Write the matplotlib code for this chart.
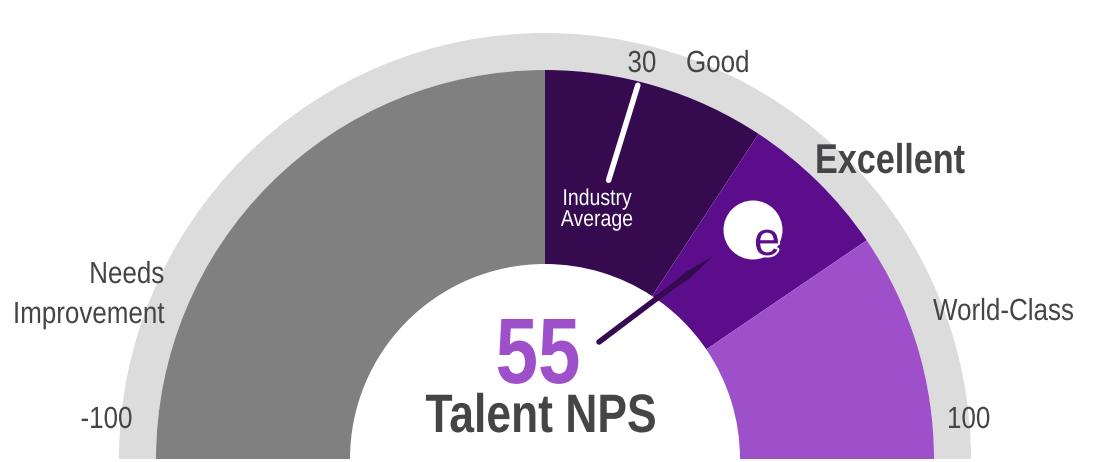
import matplotlib
matplotlib.use('Agg')
import numpy as np
import matplotlib.pyplot as plt
from matplotlib.patches import Wedge, Circle, Polygon
from matplotlib.transforms import Affine2D
import matplotlib.patheffects as pe

# gauge data
scale_min, scale_max = -100, 100
band_edges = [-100, 0, 37, 62, 100]
band_colors = ['#808080', '#350a4e', '#5c0d8c', '#9d50c9']
score = 55
score_label = 'Talent NPS'
industry_avg = 30
industry_mark = 15.5   # where the marker sits on the drawn dial
zone_names = ['Needs\nImprovement', 'Good', 'Excellent', 'World-Class']

plt.rcParams['font.family'] = ['Liberation Sans', 'DejaVu Sans']
TXT = '#454547'

R_RING = 426 / 389
R_OUT = 1.0
R_IN = 195 / 389


class Narrow(pe.AbstractPathEffect):
    """squeeze glyphs horizontally (no narrow font installed)"""
    def __init__(self, sx=0.82, anchor='center'):
        super().__init__()
        self.sx = sx
        self.anchor = anchor

    def draw_path(self, renderer, gc, tpath, affine, rgbFace=None):
        ext = tpath.get_extents()
        x0 = {'left': 0, 'right': ext.x1, 'center': (ext.x0 + ext.x1) / 2}[self.anchor]
        sq = Affine2D().translate(-x0, 0).scale(self.sx, 1).translate(x0, 0)
        renderer.draw_path(gc, tpath, sq + affine, rgbFace)


def ang(v):
    return 180 - (v - scale_min) / (scale_max - scale_min) * 180


def px(x, y):
    # picture pixels -> gauge units (center of dial at 545,459, radius 389)
    return (x - 545) / 389, (459 - y) / 389


def label(x, y, s, size, ha='center', color=TXT, bold=False):
    ax.text(*px(x, y), s, color=color, fontsize=size, ha=ha, va='baseline',
            fontweight='bold' if bold else 'normal',
            path_effects=[Narrow(0.82 if bold else 0.85, ha)], zorder=9)


fig = plt.figure(figsize=(11.01, 4.62), dpi=100)
ax = fig.add_axes([0, 0, 1, 1])
ax.set_xlim(-545 / 389, (1101 - 545) / 389)
ax.set_ylim(-3 / 389, 459 / 389)
ax.set_aspect('equal')
ax.axis('off')

ax.add_patch(Wedge((0, 0), R_RING, 0, 180, width=R_RING - R_OUT, color='#dcdcdc', lw=0))
for lo, hi, c in zip(band_edges[:-1], band_edges[1:], band_colors):
    ax.add_patch(Wedge((0, 0), R_OUT, ang(hi), ang(lo), width=R_OUT - R_IN, color=c, lw=0))

# industry average marker
t = np.radians(ang(industry_mark))
t2 = np.radians(ang(industry_mark) + 1.1)
ax.plot([0.99 * np.cos(t), 0.735 * np.cos(t2)], [0.99 * np.sin(t), 0.735 * np.sin(t2)],
        color='white', lw=4, solid_capstyle='round', zorder=5)

# score needle
th = np.radians(ang(score) - 3.5)
tail = np.array(px(599, 342))
d = np.array([np.cos(th), np.sin(th)])
nrm = np.array([-d[1], d[0]])
L = 143 / 389
tip = tail + L * d
base = tail + 0.72 * L * d
ax.plot([tail[0], base[0]], [tail[1], base[1]], color='#350a4e', lw=4,
        solid_capstyle='round', zorder=6)
w = 3.8 / 389
ax.add_patch(Polygon([base - 0.08 * L * d + nrm * w * 0.6, base + 0.05 * L * d + nrm * w, tip,
                      base + 0.05 * L * d - nrm * w, base - 0.08 * L * d - nrm * w * 0.6],
                     closed=True, color='#350a4e', lw=0, zorder=6))

# logo
ax.add_patch(Circle(px(753, 230), 29.5 / 389, color='white', lw=0, zorder=7))
ax.text(*px(767, 243), 'e', color='#5c0d8c', fontsize=34, ha='center', va='center',
        zorder=8, path_effects=[pe.withStroke(linewidth=3, foreground='white')])

# texts
label(538, 383, str(score), 67, color='#9d50c9', bold=True)
label(541, 432, score_label, 39, bold=True)
label(642, 72, str(industry_avg), 22)
label(686, 72, zone_names[1], 22, ha='left')
label(815, 173, zone_names[2], 30, ha='left', bold=True)
label(933, 320, zone_names[3], 22, ha='left')
needs, impr = zone_names[0].split('\n')
label(164, 283, needs, 22, ha='right')
label(164, 323, impr, 22, ha='right')
label(133, 428, str(scale_min), 22, ha='right')
label(947, 428, str(scale_max), 22, ha='left')
label(597, 205, 'Industry', 16.5, color='white')
label(597, 226, 'Average', 16.5, color='white')

fig.savefig('out.png', dpi=100)
